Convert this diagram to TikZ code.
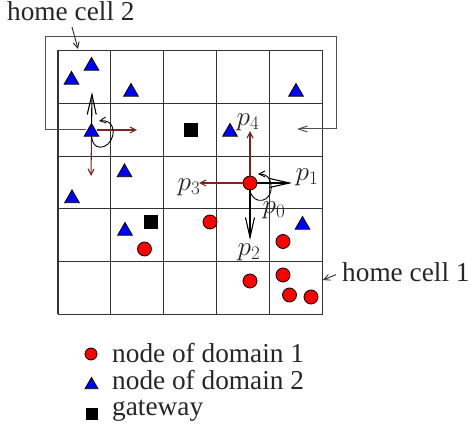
\documentclass[tikz,border=0pt]{standalone}
\usepackage{fix-cm}
\usepackage[no-math]{fontspec}
\setmainfont{Liberation Serif}
\usetikzlibrary{arrows.meta,shapes.geometric}
\definecolor{arrowred}{RGB}{125,35,35}
\definecolor{gridgray}{RGB}{50,50,50}
\definecolor{framegray}{RGB}{80,80,80}
\begin{document}
\begin{tikzpicture}[x=1pt,y=-1pt,
  font=\fontsize{27.3}{32}\selectfont,
  gridline/.style={line width=1.1pt,draw=gridgray},
  rnode/.style={circle,draw=black,fill=red,line width=0.8pt,minimum size=14pt,inner sep=0pt},
  bnode/.style={regular polygon,regular polygon sides=3,draw=black,fill=blue,line width=0.8pt,minimum size=17pt,inner sep=0pt},
  gnode/.style={rectangle,fill=black,minimum size=14pt,inner sep=0pt},
  lab/.style={inner sep=0pt,text=black!85},
  txt/.style={inner sep=0pt,text=black!85,anchor=base west},
  redarrow/.style={draw=arrowred,line width=1.1pt,-{Straight Barb[length=6pt,width=6pt]}},
  bigarrow/.style={draw=black,line width=1.1pt,-{Straight Barb[length=20pt,width=9pt]}},
  looparrow/.style={draw=black,line width=0.9pt,-{Straight Barb[length=6pt,width=6pt]}},
  framearrow/.style={draw=framegray,line width=1pt,-{Straight Barb[length=9pt,width=6pt]}},
  pointer/.style={draw=black!85,line width=0.9pt,-{Straight Barb[length=6pt,width=6pt]}}]
\useasboundingbox (0,0) rectangle (469,427);
% grid
\foreach \i in {0,...,5}{
  \draw[gridline] ({58+52.9*\i},50.5) -- ({58+52.9*\i},314.5);
  \draw[gridline] (58,{50.5+52.8*\i}) -- (322.5,{50.5+52.8*\i});
}
% domain 2 nodes
\node[bnode] (b1) at (71.5,80) {};
\node[bnode] (b2) at (91.5,66) {};
\node[bnode] (b3) at (131,92) {};
\node[bnode] (t) at (91.5,132) {};
\node[bnode] (b5) at (124.5,172.5) {};
\node[bnode] (b6) at (72,198.5) {};
\node[bnode] (b7) at (125,231) {};
\node[bnode] (b8) at (230,132) {};
\node[bnode] (b9) at (296,92) {};
\node[bnode] (b10) at (302.5,225) {};
% gateways
\node[gnode] (g1) at (190.5,130) {};
\node[gnode] (g2) at (151,222) {};
% domain 1 nodes
\node[rnode] (c) at (250,183) {};
\node[rnode] (r2) at (210,222) {};
\node[rnode] (r3) at (144.5,249) {};
\node[rnode] (r4) at (283,241.5) {};
\node[rnode] (r5) at (250,281) {};
\node[rnode] (r6) at (283,275) {};
\node[rnode] (r7) at (289.5,295) {};
\node[rnode] (r8) at (311,297) {};
% labels p
\node[lab] (p4) at (248,122) {$p_4$};
\node[lab] (p1) at (307,177) {$p_1$};
\node[lab] (p3) at (189,187) {$p_3$};
\node[lab] (p0) at (274,210) {$p_0$};
\node[lab] (p2) at (249,252) {$p_2$};
% arrows of central node
\coordinate (cu) at (250,131);
\coordinate (cl) at (199,183);
\coordinate (cr) at (292,183);
\coordinate (cd) at (250,240);
\draw[redarrow] (c) -- (cu);
\draw[redarrow] (c) -- (cl);
\draw[bigarrow] (c) -- (cr);
\draw[bigarrow] (c) -- (cd);
\coordinate (cloopend) at (258,174);
\draw[looparrow] (c.south) .. controls (253,206) and (273,203) .. (271,185) .. controls (270,177) and (266,174) .. (cloopend);
% arrows of triangle
\coordinate (tu) at (92,92);
\coordinate (tr) at (137,130);
\coordinate (td) at (91,176);
\draw[bigarrow] (t) -- (tu);
\draw[redarrow] (t.east |- 0,130) -- (tr);
\draw[redarrow] (t.south) -- (td);
\coordinate (tloopend) at (99,121);
\draw[looparrow] (t.south) .. controls (94,156) and (115,146) .. (113,130) .. controls (112,122) and (106,120) .. (tloopend);
% wrap-around frame
\coordinate (f1) at (45,130);
\coordinate (f2) at (45,37);
\coordinate (f3) at (336,37);
\coordinate (f4) at (336,129);
\coordinate (f5) at (297,129);
\draw[framearrow] (t.west |- 0,130) -- (f1) -- (f2) -- (f3) -- (f4) -- (f5);
% home cell labels
\node[txt] (hc2) at (7,21) {home cell 2};
\coordinate (hc2tip) at (78,49);
\draw[pointer] (72,27) -- (hc2tip);
\node[txt] (hc1) at (342,282) {home cell 1};
\coordinate (hc1tip) at (323,280);
\draw[pointer] ([xshift=-6pt,yshift=-2pt]hc1.west) -- (hc1tip);
% legend
\node[rnode,minimum size=12pt] (l1) at (91,354) {};
\node[bnode,minimum size=15pt] (l2) at (91.5,385) {};
\node[gnode,minimum size=12pt] (l3) at (91.5,414) {};
\node[txt] (t1) at (112,363) {node of domain 1};
\node[txt] (t2) at (112,390) {node of domain 2};
\node[txt] (t3) at (112,416) {gateway};
\end{tikzpicture}
\end{document}
